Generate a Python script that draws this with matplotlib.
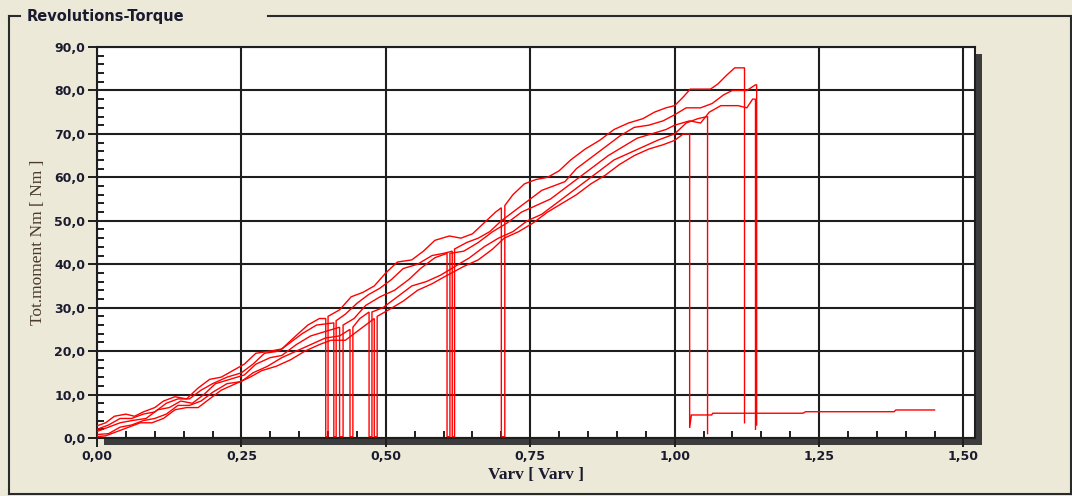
import matplotlib
matplotlib.use("Agg")
import matplotlib.pyplot as plt
from matplotlib.lines import Line2D
from matplotlib.patches import Rectangle
from matplotlib.ticker import MultipleLocator, FuncFormatter

W, H = 1072, 496

TITLE = "Revolutions-Torque"
X_LABEL = "Varv [ Varv ]"
Y_LABEL = "Tot.moment Nm [ Nm ]"
X_TICKS = [0.0, 0.25, 0.5, 0.75, 1.0, 1.25, 1.5]
Y_TICKS = [0, 10, 20, 30, 40, 50, 60, 70, 80, 90]

run1 = [(0.000,2.8),(0.015,3.5),(0.030,5.0),(0.050,5.5),(0.065,5.0),(0.080,6.0),(0.100,7.0),(0.115,8.5),
        (0.135,9.5),(0.155,9.0),(0.175,11.5),(0.195,13.5),(0.215,14.0),(0.235,15.5),(0.255,17.0),(0.275,19.5),
        (0.300,20.0),(0.320,20.5),(0.340,23.0),(0.365,26.0),(0.385,27.5),(0.396,27.5),(0.396,0.3),(0.400,0.3),
        (0.400,28.0),(0.420,29.5),(0.440,32.5),(0.460,33.5),(0.480,35.0),(0.500,38.0),(0.520,40.5),(0.545,41.0),
        (0.565,43.0),(0.585,45.5),(0.610,46.5),(0.630,46.0),(0.650,47.0),(0.670,49.5),(0.690,52.0),(0.700,53.0),
        (0.700,0.3),(0.706,0.3),(0.706,53.5),(0.720,56.0),(0.740,58.5),(0.760,59.5),(0.780,60.0),(0.800,61.5),
        (0.820,64.0),(0.845,66.5),(0.870,68.5),(0.895,71.0),(0.920,72.5),(0.945,73.5),(0.965,75.0),(0.985,76.0),
        (1.000,76.5),(1.015,78.5),(1.027,80.3),(1.062,80.3),(1.075,81.5),(1.090,83.5),(1.104,85.2),(1.121,85.2),
        (1.121,3.5)]

run2 = [(0.000,2.0),(0.020,3.0),(0.040,4.5),(0.060,4.5),(0.080,5.5),(0.100,6.0),(0.120,8.0),(0.140,9.0),
        (0.160,9.0),(0.180,11.0),(0.200,12.5),(0.225,14.0),(0.250,15.0),(0.270,17.0),(0.290,19.5),(0.315,20.0),
        (0.335,22.0),(0.355,24.0),(0.380,26.0),(0.410,26.5),(0.410,0.3),(0.414,0.3),(0.414,27.0),(0.430,28.5),
        (0.450,31.0),(0.470,33.0),(0.490,34.5),(0.510,36.5),(0.530,39.0),(0.555,40.0),(0.580,42.0),(0.600,42.5),
        (0.615,43.0),(0.615,0.3),(0.619,0.3),(0.619,43.5),(0.640,45.0),(0.660,46.0),(0.680,47.5),(0.700,50.0),
        (0.720,52.0),(0.745,54.5),(0.770,57.0),(0.790,58.0),(0.810,59.0),(0.830,62.0),(0.855,64.5),(0.880,67.0),
        (0.905,69.5),(0.930,71.5),(0.955,72.0),(0.980,73.0),(1.000,74.4),(1.020,76.0),(1.045,76.0),(1.065,77.0),
        (1.085,79.0),(1.100,80.0),(1.125,80.0),(1.140,81.3),(1.142,81.3),(1.142,3.0)]

run3 = [(0.000,1.5),(0.020,2.5),(0.040,3.5),(0.060,4.0),(0.085,4.5),(0.105,6.5),(0.125,7.0),(0.145,8.5),
        (0.165,8.0),(0.185,10.0),(0.205,12.5),(0.230,13.5),(0.255,14.5),(0.275,17.0),(0.300,18.5),(0.320,19.0),
        (0.345,21.5),(0.370,23.5),(0.395,24.5),(0.420,25.5),(0.420,0.3),(0.426,0.3),(0.426,26.0),(0.445,27.5),
        (0.465,30.5),(0.490,32.5),(0.515,34.0),(0.540,36.5),(0.560,39.0),(0.585,41.5),(0.606,42.5),(0.606,0.3),
        (0.611,0.3),(0.611,42.5),(0.635,43.0),(0.660,45.0),(0.685,47.5),(0.710,49.5),(0.735,52.0),(0.760,53.5),
        (0.785,55.0),(0.810,57.5),(0.835,60.0),(0.860,62.5),(0.885,65.0),(0.910,67.0),(0.935,69.0),(0.960,70.0),
        (0.985,71.0),(1.000,72.0),(1.026,73.0),(1.045,72.5),(1.060,75.0),(1.080,76.5),(1.110,76.5),(1.125,76.0),
        (1.135,78.0),(1.140,78.0),(1.140,2.0)]

run4 = [(0.000,0.8),(0.020,1.0),(0.040,2.5),(0.060,3.0),(0.080,4.0),(0.100,4.5),(0.120,5.5),(0.140,7.5),
        (0.160,7.5),(0.180,8.5),(0.200,10.5),(0.225,12.5),(0.250,13.0),(0.270,15.0),(0.295,16.5),(0.320,18.5),
        (0.345,20.0),(0.370,21.5),(0.395,23.0),(0.420,23.5),(0.438,25.0),(0.438,0.3),(0.443,0.3),(0.443,25.5),
        (0.455,27.5),(0.471,29.0),(0.471,0.3),(0.476,0.3),(0.476,29.0),(0.495,30.0),(0.520,32.5),(0.545,35.0),
        (0.570,36.0),(0.595,37.5),(0.620,39.5),(0.645,41.5),(0.670,44.0),(0.695,46.0),(0.720,47.5),(0.745,50.0),
        (0.770,51.5),(0.795,54.0),(0.820,56.5),(0.845,59.0),(0.870,61.5),(0.895,64.0),(0.920,65.5),(0.945,67.0),
        (0.970,68.5),(0.990,69.5),(1.000,70.0),(1.020,72.5),(1.040,73.5),(1.057,74.0),(1.057,1.0)]

run5 = [(0.000,0.3),(0.015,0.5),(0.035,1.5),(0.055,2.5),(0.075,3.5),(0.095,3.5),(0.115,4.5),(0.135,6.5),
        (0.155,7.0),(0.175,7.0),(0.195,9.0),(0.215,11.0),(0.240,12.5),(0.265,14.0),(0.285,15.5),(0.310,16.5),
        (0.335,18.0),(0.360,20.0),(0.385,21.5),(0.405,22.5),(0.430,22.5),(0.455,25.0),(0.480,27.5),(0.480,0.3),
        (0.485,0.3),(0.485,28.0),(0.505,29.5),(0.530,31.5),(0.555,34.0),(0.580,35.5),(0.600,37.0),(0.635,39.5),
        (0.660,41.0),(0.685,43.5),(0.705,46.0),(0.730,47.5),(0.755,49.5),(0.780,52.0),(0.805,54.0),(0.830,56.0),
        (0.855,58.5),(0.880,60.5),(0.905,63.0),(0.930,65.0),(0.955,66.5),(0.980,67.5),(1.000,68.5),(1.015,70.0),
        (1.026,70.0),(1.026,2.3),(1.029,5.3),(1.064,5.3),(1.066,5.7),(1.222,5.7),(1.227,6.05),(1.380,6.05),
        (1.383,6.45),(1.450,6.45)]

RUNS = [run1, run2, run3, run4, run5]

BG = "#ECE9D8"
TXT = "#1b1b30"

fig = plt.figure(figsize=(W / 100, H / 100), dpi=100, facecolor=BG)

def fx(x):
    return x / W

def fy(y):
    return 1 - y / H

# group box
box_col = "#2a2a2a"
for xs, ys in [([9, 20], [16, 16]), ([268, 1071], [16, 16]), ([9, 9], [16, 494]),
               ([1071, 1071], [16, 494]), ([9, 1071], [494, 494])]:
    fig.add_artist(Line2D([fx(v) for v in xs], [fy(v) for v in ys], color=box_col, lw=1.5,
                          transform=fig.transFigure))
fig.text(fx(27), fy(16), TITLE, fontsize=10.5, fontweight="bold", color=TXT,
         family="DejaVu Sans", ha="left", va="center")

# plot area
L, T, R, B = 97, 47, 975, 438
# shadow
fig.add_artist(Rectangle((fx(L + 7), fy(B + 7)), fx(R - L), (B - T) / H, transform=fig.transFigure,
                         facecolor="#3c3c3c", edgecolor="none", zorder=0))
ax = fig.add_axes([fx(L), fy(B), fx(R - L), (B - T) / H])
ax.set_facecolor("white")
ax.set_zorder(1)

for run in RUNS:
    xs = [p[0] for p in run]
    ys = [p[1] for p in run]
    ax.plot(xs, ys, color="#ff0000", lw=1.0, solid_joinstyle="miter", zorder=3)

ax.set_xlim(0, 1.52)
ax.set_ylim(0, 90)
ax.set_xticks(X_TICKS)
ax.set_yticks(Y_TICKS)
ax.xaxis.set_minor_locator(MultipleLocator(0.05))
ax.yaxis.set_minor_locator(MultipleLocator(2))
ax.xaxis.set_major_formatter(FuncFormatter(lambda v, p: f"{v:.2f}".replace(".", ",")))
ax.yaxis.set_major_formatter(FuncFormatter(lambda v, p: f"{v:.1f}".replace(".", ",")))
ax.grid(True, which="major", color="#1e1e1e", lw=1.5)
ax.set_axisbelow(True)
for s in ax.spines.values():
    s.set_color("#1e1e1e")
    s.set_linewidth(1.5)
ax.tick_params(which="major", direction="out", length=6.5, width=1.4, color="#1e1e1e",
               labelsize=9, labelcolor=TXT, pad=2)
ax.tick_params(which="minor", direction="in", length=5, width=1.4, color="#1e1e1e")
for lab in ax.get_xticklabels() + ax.get_yticklabels():
    lab.set_fontweight("bold")
ax.set_xlabel(X_LABEL, fontsize=12.5, fontweight="bold", family="Liberation Serif", color=TXT, labelpad=3)
ax.set_ylabel(Y_LABEL, fontsize=12.5, family="Liberation Serif", color="#4a3a2c", labelpad=6)

fig.savefig("out.png", dpi=100, facecolor=BG)
